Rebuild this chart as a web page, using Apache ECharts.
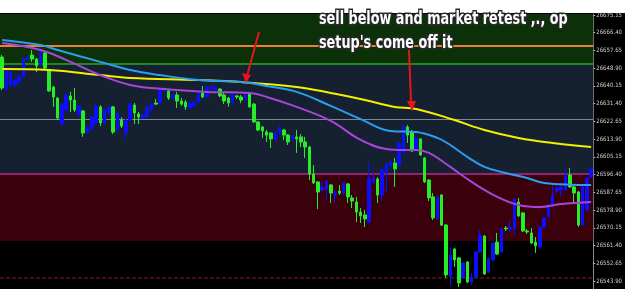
<!DOCTYPE html>
<html><head><meta charset="utf-8">
<script src="https://cdn.jsdelivr.net/npm/echarts@6/dist/echarts.min.js"></script>
<style>html,body{margin:0;padding:0;background:#fff}#c{width:625px;height:289px}</style>
</head><body><div id="c"></div>
<script>
// OHLC as [open, close, low, high]
const candles = [
[26654.4,26639.1,26638.1,26655.4],[26638.6,26648.0,26638.1,26649.0],[26640.6,26647.0,26639.6,26649.5],[26640.1,26643.1,26639.6,26643.6],
[26642.1,26645.0,26641.6,26645.5],[26644.6,26653.9,26644.1,26654.4],[26653.0,26654.4,26652.5,26654.9],[26655.4,26653.4,26652.0,26657.9],
[26653.4,26650.0,26647.0,26653.9],[26650.5,26657.9,26650.0,26658.4],[26656.4,26649.0,26648.5,26656.9],[26648.0,26637.7,26637.2,26648.5],
[26639.6,26634.7,26629.8,26640.1],[26634.2,26624.3,26623.3,26634.7],[26621.4,26631.2,26620.9,26631.7],[26628.3,26635.7,26627.8,26636.7],
[26635.2,26633.2,26627.3,26637.2],[26633.2,26628.3,26627.3,26639.1],[26625.8,26630.3,26625.3,26630.7],[26627.8,26616.9,26615.0,26628.3],
[26616.9,26619.9,26616.4,26620.4],[26618.9,26624.8,26618.4,26625.3],[26621.9,26630.3,26621.4,26630.7],[26629.8,26621.9,26620.4,26630.7],
[26621.9,26628.3,26621.4,26628.8],[26626.8,26629.8,26625.8,26630.3],[26629.8,26617.4,26616.4,26630.3],[26618.4,26626.8,26617.9,26627.3],
[26623.3,26620.4,26619.4,26624.8],[26616.9,26623.3,26613.5,26623.8],[26623.3,26631.2,26622.9,26631.7],[26630.7,26626.8,26621.4,26631.7],
[26626.3,26624.8,26621.4,26627.3],[26624.3,26625.8,26623.8,26626.3],[26624.8,26629.8,26624.3,26630.3],[26628.3,26631.7,26627.8,26632.2],
[26631.7,26631.2,26630.7,26633.7],[26631.7,26638.1,26631.2,26638.6],[26637.2,26638.6,26636.7,26639.1],[26637.7,26634.2,26633.2,26638.1],
[26634.2,26635.7,26633.7,26636.2],[26635.7,26632.7,26629.3,26637.2],[26632.7,26631.2,26630.3,26634.2],[26632.2,26629.8,26628.3,26633.2],
[26629.3,26631.7,26628.8,26632.2],[26630.3,26632.2,26629.8,26632.7],[26632.2,26636.7,26631.7,26637.2],[26636.7,26634.7,26634.2,26640.1],
[26634.7,26639.6,26634.2,26640.1],[26638.6,26640.1,26638.1,26640.6],[26638.1,26639.6,26637.7,26640.1],[26638.6,26635.2,26634.7,26639.1],
[26635.7,26632.7,26631.2,26636.7],[26634.2,26631.7,26629.8,26634.7],[26631.7,26636.2,26631.2,26636.7],[26635.2,26634.7,26633.7,26635.7],
[26634.7,26633.2,26631.7,26635.7],[26633.7,26636.2,26633.2,26636.7],[26636.7,26629.8,26629.3,26637.2],[26631.2,26622.4,26621.9,26631.7],
[26622.4,26618.4,26617.9,26622.9],[26619.9,26617.9,26614.5,26620.4],[26617.4,26615.9,26612.5,26618.4],[26616.9,26614.0,26609.5,26617.4],
[26613.5,26617.4,26613.0,26617.9],[26616.9,26619.4,26615.9,26620.9],[26618.4,26615.9,26613.5,26618.9],[26615.9,26612.5,26611.0,26616.4],
[26613.5,26615.5,26613.0,26615.9],[26615.0,26614.0,26607.1,26618.4],[26615.0,26612.5,26610.0,26616.4],[26612.5,26610.0,26604.6,26615.0],
[26610.0,26596.7,26593.7,26610.5],[26596.7,26592.3,26591.8,26601.1],[26592.8,26587.8,26579.4,26593.2],[26588.8,26590.3,26587.3,26592.8],
[26589.3,26593.2,26583.9,26593.7],[26591.3,26587.3,26582.4,26591.8],[26586.3,26587.3,26582.4,26588.8],[26588.3,26587.3,26586.3,26591.3],
[26587.3,26592.3,26586.8,26592.8],[26591.8,26585.4,26582.4,26592.3],[26584.9,26583.4,26579.9,26586.3],[26582.9,26577.9,26573.0,26585.4],
[26577.9,26576.0,26572.5,26579.9],[26576.5,26574.5,26570.5,26578.9],[26573.0,26594.7,26572.5,26602.6],[26592.8,26594.7,26591.8,26598.2],
[26594.2,26586.3,26582.4,26595.2],[26586.3,26598.7,26583.4,26599.2],[26597.2,26601.6,26587.8,26602.1],[26600.6,26602.6,26600.2,26603.1],
[26602.1,26599.2,26590.3,26604.6],[26601.1,26612.0,26600.6,26612.5],[26607.1,26620.4,26606.6,26620.9],[26619.9,26615.9,26612.0,26620.9],
[26617.4,26608.1,26607.6,26618.4],[26608.5,26614.5,26608.1,26615.0],[26614.0,26606.1,26605.6,26614.5],[26604.6,26592.8,26592.3,26605.1],
[26593.7,26584.9,26583.4,26594.2],[26585.4,26575.0,26574.0,26587.3],[26574.5,26585.4,26574.0,26585.8],[26586.3,26571.5,26571.0,26586.8],
[26571.5,26546.9,26545.4,26572.0],[26545.9,26556.7,26541.9,26560.7],[26559.7,26554.3,26550.8,26560.2],[26555.3,26542.9,26540.9,26555.7],
[26545.4,26552.8,26544.9,26553.3],[26553.3,26543.4,26542.9,26553.8],[26543.4,26545.9,26541.9,26547.9],[26545.9,26558.2,26545.4,26558.7],
[26558.2,26566.6,26557.7,26569.1],[26566.1,26547.4,26546.9,26566.6],[26548.3,26554.8,26547.9,26555.7],[26554.3,26562.6,26553.8,26563.1],
[26563.1,26557.2,26556.7,26567.6],[26558.2,26569.6,26557.7,26570.0],[26570.0,26569.6,26568.6,26571.0],[26569.6,26570.5,26568.1,26574.0],
[26569.6,26584.4,26566.6,26584.9],[26582.9,26576.0,26575.5,26584.9],[26577.5,26568.6,26568.1,26577.9],[26568.6,26568.1,26567.1,26569.6],
[26567.6,26562.6,26562.2,26570.0],[26563.1,26561.2,26557.7,26565.6],[26560.7,26570.5,26560.2,26571.0],[26570.5,26575.0,26570.0,26575.5],
[26575.5,26581.4,26575.0,26581.9],[26581.4,26586.3,26580.4,26592.3],[26588.3,26589.8,26587.3,26590.8],[26588.8,26590.3,26585.4,26592.3],
[26588.8,26596.2,26588.3,26599.7],[26596.2,26590.3,26589.8,26599.7],[26590.3,26587.3,26582.4,26590.8],[26587.8,26571.5,26570.5,26588.3],
[26571.5,26590.3,26571.0,26590.8],[26578.9,26594.7,26578.4,26595.2],[26595.2,26599.2,26594.7,26599.7]
];
const categories = candles.map((_, i) => String(i));

// moving averages read at sample bars: [barIndex, value]
const maYellow = [[0,26648.5],[11,26648.0],[23,26645.5],[30,26644.1],[46,26643.1],[56,26642.1],[69,26639.6],[77,26636.7],[85,26633.2],[92,26629.8],[97,26628.8],[106,26623.3],[113,26618.4],[121,26614.5],[129,26612.0],[138,26610.0]];
const maBlue = [[0,26662.8],[9,26660.3],[13,26657.9],[23,26652.0],[30,26648.0],[37,26645.5],[46,26643.1],[56,26642.1],[62,26640.1],[69,26637.2],[77,26630.3],[84,26623.8],[91,26617.9],[97,26617.4],[102,26614.5],[105,26611.0],[109,26605.1],[113,26600.2],[118,26597.2],[123,26594.7],[127,26592.3],[138,26591.3]];
const maPurple = [[0,26661.3],[9,26657.9],[15,26653.0],[23,26645.5],[30,26640.6],[35,26639.1],[48,26637.2],[58,26636.7],[62,26634.7],[69,26629.8],[77,26622.9],[84,26613.5],[90,26609.0],[94,26608.5],[97,26608.5],[100,26607.1],[105,26600.2],[110,26592.8],[116,26585.4],[121,26581.4],[126,26580.4],[131,26581.9],[138,26582.9]];

// horizontal levels
const levelOrange = 26659.8;
const levelGreen = 26651.0;
const levelGray = 26623.8;
const levelMagenta = 26596.7;
const levelRedBottom = 26563.6;
const levelDotted = 26545.4;

const tickLabels = [26543.90,26552.65,26561.40,26570.15,26578.90,26587.65,26596.40,26605.15,26613.90,26622.65,26631.40,26640.15,26648.90,26657.65,26666.40,26675.15];
const yMin = 26539.95, yMax = 26675.64;

const annotationLines = ["sell below and market retest ,., op", "setup's come off it"];

const chart = echarts.init(document.getElementById('c'), null, {renderer:'canvas'});
const txtStyle = (t, x, y) => ({type:'text', x:x, y:y, scaleX:0.79, scaleY:1, z:100, style:{text:t, fill:'#ffffff',
  font:'bold 18px "Liberation Sans Narrow","DejaVu Sans Condensed",sans-serif',
  stroke:'#2a2a2a', lineWidth:3, shadowColor:'rgba(0,0,0,0.9)', shadowBlur:2, shadowOffsetX:1, shadowOffsetY:1}});
chart.setOption({
  animation:false,
  backgroundColor:'#ffffff',
  grid:{left:0, right:27, top:14, bottom:0, containLabel:false},
  xAxis:{type:'category', data:categories, boundaryGap:true, show:false},
  yAxis:{type:'value', position:'right', min:yMin, max:yMax, scale:true,
    splitLine:{show:false},
    axisLine:{show:true, lineStyle:{color:'#8a8a8a', width:1}},
    axisTick:{show:true, length:2, inside:false, customValues:tickLabels, lineStyle:{color:'#bbbbbb'}},
    axisLabel:{show:true, customValues:tickLabels, margin:3, fontSize:6, color:'#d0d0d0',
      fontFamily:'"DejaVu Sans Condensed",sans-serif', formatter:v=>v.toFixed(2)}},
  graphic:[
    {type:'rect', shape:{x:0,y:13,width:625,height:276}, style:{fill:'#000000'}, z:-10},
    txtStyle(annotationLines[0], 319, 10),
    txtStyle(annotationLines[1], 319, 34),
    {type:'line', shape:{x1:259,y1:32,x2:247,y2:76}, style:{stroke:'#e8141a', lineWidth:2}, z:90},
    {type:'polygon', shape:{points:[[246,83],[242,73],[251,75]]}, style:{fill:'#e8141a'}, z:90},
    {type:'line', shape:{x1:409,y1:50,x2:411,y2:102}, style:{stroke:'#e8141a', lineWidth:2}, z:90},
    {type:'polygon', shape:{points:[[412,111],[407,101],[416,101]]}, style:{fill:'#e8141a'}, z:90}
  ],
  series:[
    {type:'line', name:'zones', data:categories.map(()=>null), z:1, silent:true,
      markArea:{silent:true, data:[
        [{yAxis:levelGreen, itemStyle:{color:'#0c3109'}},{yAxis:yMax}],
        [{yAxis:levelMagenta, itemStyle:{color:'#152030'}},{yAxis:levelGreen}],
        [{yAxis:levelRedBottom, itemStyle:{color:'#3a000c'}},{yAxis:levelMagenta}]
      ]},
      markLine:{silent:true, symbol:'none', label:{show:false}, data:[
        {yAxis:levelOrange, lineStyle:{color:'#f07c3c', width:2, type:'solid'}},
        {yAxis:levelGreen, lineStyle:{color:'#24a81e', width:1.5, type:'solid'}},
        {yAxis:levelGray, lineStyle:{color:'#7a8894', width:1.2, type:'solid'}},
        {yAxis:levelMagenta, lineStyle:{color:'#b02a92', width:1.5, type:'solid'}},
        {yAxis:levelDotted, lineStyle:{color:'#5e1414', width:1.5, type:[4,2]}}
      ]}},
    {type:'candlestick', name:'price', data:candles, z:5, barWidth:3,
      itemStyle:{color:'#0d0dff', color0:'#26ee26', borderColor:'#0d0dff', borderColor0:'#26ee26', borderWidth:1}},
    {type:'line', name:'ma1', data:maYellow, smooth:0.4, showSymbol:false, z:6,
      lineStyle:{color:'#f4f000', width:2}},
    {type:'line', name:'ma2', data:maBlue, smooth:0.4, showSymbol:false, z:6,
      lineStyle:{color:'#2a9ef0', width:2}},
    {type:'line', name:'ma3', data:maPurple, smooth:0.4, showSymbol:false, z:6,
      lineStyle:{color:'#a844d8', width:2}}
  ]
});
</script></body></html>
